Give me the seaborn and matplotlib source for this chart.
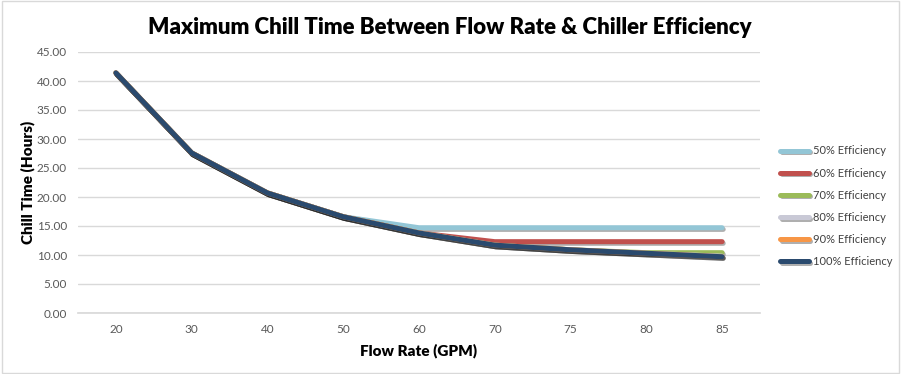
import pandas as pd
import seaborn as sns
import matplotlib.pyplot as plt
import matplotlib.patheffects as pe

# flow rate categories (GPM) and chill time per efficiency level (hours)
flow_rates = ['20', '30', '40', '50', '60', '70', '75', '80', '85']
eff_50 = [41.4, 27.6, 20.7, 16.6, 14.7, 14.7, 14.7, 14.7, 14.7]
eff_60 = [41.4, 27.6, 20.7, 16.6, 13.8, 12.3, 12.3, 12.3, 12.3]
eff_70 = [41.4, 27.6, 20.7, 16.6, 13.8, 11.7, 10.9, 10.4, 10.4]
eff_80 = [41.4, 27.6, 20.7, 16.6, 13.8, 11.7, 10.9, 10.3, 9.8]
eff_90 = [41.4, 27.6, 20.7, 16.6, 13.8, 11.7, 10.9, 10.3, 9.7]
eff_100 = [41.4, 27.6, 20.7, 16.6, 13.8, 11.7, 10.9, 10.3, 9.7]

series_names = ['50% Efficiency', '60% Efficiency', '70% Efficiency',
                '80% Efficiency', '90% Efficiency', '100% Efficiency']
colors = ['#93C6D6', '#C0504D', '#9BBB59', '#C9C9D6', '#F79646', '#2A4A6E']

rows = []
for name, vals in zip(series_names, [eff_50, eff_60, eff_70, eff_80, eff_90, eff_100]):
    for fr, v in zip(flow_rates, vals):
        rows.append({'flow': fr, 'hours': v, 'series': name})
df = pd.DataFrame(rows)

sns.set_theme(style='white')
plt.rcParams['font.family'] = ['Lato', 'DejaVu Sans']

fig = plt.figure(figsize=(9.01, 3.74), dpi=100)
ax = fig.add_axes([78 / 901, 1 - 313 / 374, (760 - 78) / 901, (313 - 52) / 374])

sns.lineplot(data=df, x='flow', y='hours', hue='series', hue_order=series_names,
             palette=colors, linewidth=3.6, ax=ax, sort=False)

for line in ax.get_lines():
    line.set_solid_capstyle('round')
    line.set_path_effects([pe.SimpleLineShadow(offset=(0.8, -1.2), alpha=0.35), pe.Normal()])

ax.set_xlim(-0.5, 8.5)
ax.set_ylim(0, 45)
ax.set_yticks(range(0, 50, 5))
ax.set_yticklabels([f'{v:.2f}' for v in range(0, 50, 5)])
ax.yaxis.grid(True, color='#D9D9D9', linewidth=1)
ax.set_axisbelow(True)
for side in ['top', 'right', 'left']:
    ax.spines[side].set_visible(False)
ax.spines['bottom'].set_color('#D9D9D9')
ax.tick_params(axis='both', colors='#595959', labelsize=8.5, length=0, pad=8)

ax.set_xlabel('Flow Rate (GPM)', fontsize=11, fontweight='heavy', color='black', labelpad=6)
ax.set_ylabel('Chill Time (Hours)', fontsize=11, fontweight='heavy', color='black', labelpad=1)

fig.suptitle('Maximum Chill Time Between Flow Rate & Chiller Efficiency',
             x=450 / 901, y=0.955, fontsize=16, fontweight='heavy', color='black')

handles, labels = ax.get_legend_handles_labels()
ax.get_legend().remove()
leg = fig.legend(handles, labels, loc='upper left', bbox_to_anchor=(776 / 901, 1 - 141 / 374),
                 frameon=False, fontsize=8, handlelength=2.6, handletextpad=0.35,
                 labelspacing=1.0, borderaxespad=0)
for h in leg.get_lines():
    h.set_linewidth(3.6)
for t in leg.get_texts():
    t.set_color('#404040')

fig.patches.append(plt.Rectangle((0.002, 0.003), 0.996, 0.994, transform=fig.transFigure,
                                 fill=False, edgecolor='#D9D9D9', linewidth=1))

fig.savefig('out.png', dpi=100)
